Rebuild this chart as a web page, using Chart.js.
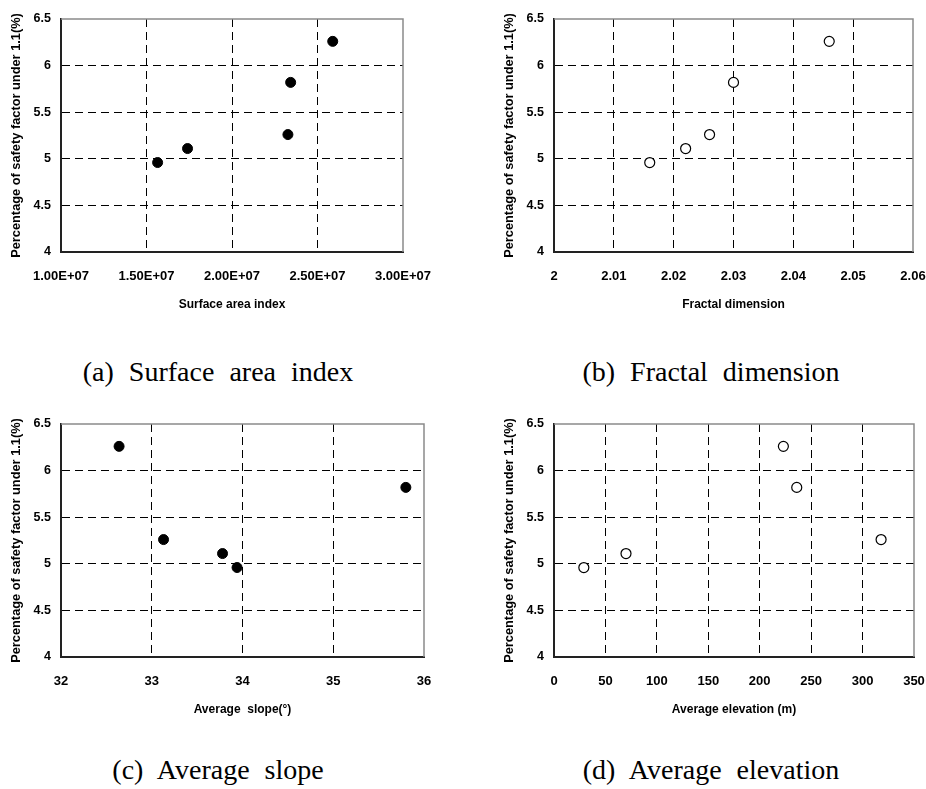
<!DOCTYPE html>
<html>
<head>
<meta charset="utf-8">
<script src="https://cdn.jsdelivr.net/npm/chart.js@4.4.1/dist/chart.umd.min.js"></script>
<style>
  body { margin: 0; background: #fff; width: 926px; height: 789px; position: relative; overflow: hidden; }
  .panel { position: absolute; }
  .cap {
    position: absolute;
    font-family: "Liberation Serif", "DejaVu Serif", serif;
    font-size: 28px;
    line-height: 28px;
    word-spacing: 8px;
    color: #000;
    transform: translateX(-50%);
    white-space: nowrap;
  }
</style>
</head>
<body>
<div class="panel" style="left:0;top:0;width:463px;height:320px"><canvas id="chart-a"></canvas></div>
<div class="panel" style="left:493px;top:0;width:433px;height:320px"><canvas id="chart-b"></canvas></div>
<div class="panel" style="left:0;top:405px;width:463px;height:320px"><canvas id="chart-c"></canvas></div>
<div class="panel" style="left:493px;top:405px;width:433px;height:320px"><canvas id="chart-d"></canvas></div>

<div class="cap" style="left:218px;top:358px">(a) Surface area index</div>
<div class="cap" style="left:711px;top:358px">(b) Fractal dimension</div>
<div class="cap" style="left:218px;top:756px">(c) Average slope</div>
<div class="cap" style="left:711px;top:756px">(d) Average elevation</div>

<script>
// wartości
const safetyPct = [4.96, 5.11, 5.26, 5.82, 6.26];
const surfaceIndex = [1.565e7, 1.74e7, 2.327e7, 2.343e7, 2.589e7];
const fractalDim = [2.016, 2.022, 2.026, 2.030, 2.046];
const avgSlope = [33.94, 33.78, 33.13, 35.80, 32.64];
const avgElev = [29, 70, 318, 236, 223];

const yTicks = [4, 4.5, 5, 5.5, 6, 6.5];
const yTickLabels = ['4', '4.5', '5', '5.5', '6', '6.5'];

const xTicksA = [1e7, 1.5e7, 2e7, 2.5e7, 3e7];
const xLabelsA = ['1.00E+07', '1.50E+07', '2.00E+07', '2.50E+07', '3.00E+07'];
const xTicksB = [2, 2.01, 2.02, 2.03, 2.04, 2.05, 2.06];
const xLabelsB = ['2', '2.01', '2.02', '2.03', '2.04', '2.05', '2.06'];
const xTicksC = [32, 33, 34, 35, 36];
const xLabelsC = ['32', '33', '34', '35', '36'];
const xTicksD = [0, 50, 100, 150, 200, 250, 300, 350];
const xLabelsD = ['0', '50', '100', '150', '200', '250', '300', '350'];

const yTitle = 'Percentage of safety factor under 1.1(%)';

// szara ramka u góry i z prawej
const framePlugin = {
  id: 'frame',
  beforeDatasetsDraw(chart) {
    const { ctx, chartArea: a } = chart;
    ctx.save();
    ctx.strokeStyle = '#8a8a8a';
    ctx.lineWidth = 1.5;
    ctx.beginPath();
    ctx.moveTo(a.left, a.top);
    ctx.lineTo(a.right, a.top);
    ctx.lineTo(a.right, a.bottom);
    ctx.stroke();
    ctx.restore();
  }
};

function gridColor(max) {
  return ctx => (ctx.tick && Math.abs(ctx.tick.value - max) < 1e-9) ? 'rgba(0,0,0,0)' : '#000';
}

function makeChart(id, xs, xTicks, xLabels, xTitle, filled, padRight) {
  const canvas = document.getElementById(id);
  const points = xs.map((x, i) => ({ x, y: safetyPct[i] }));
  const xMax = xTicks[xTicks.length - 1];

  return new Chart(canvas, {
    type: 'scatter',
    data: {
      datasets: [{
        data: points,
        pointRadius: 5,
        pointHoverRadius: 5,
        pointBorderWidth: filled ? 1 : 1.2,
        pointBackgroundColor: filled ? '#000' : '#fff',
        pointBorderColor: '#000',
        showLine: false
      }]
    },
    options: {
      responsive: true,
      maintainAspectRatio: false,
      animation: false,
      layout: { padding: { left: 0, top: 19, right: padRight, bottom: 0 } },
      plugins: { legend: { display: false }, tooltip: { enabled: false } },
      scales: {
        x: {
          type: 'linear',
          min: xTicks[0],
          max: xMax,
          afterBuildTicks: s => { s.ticks = xTicks.map(v => ({ value: v })); },
          afterFit: s => { s.height = 68; s.paddingLeft = 0; s.paddingRight = 0; },
          ticks: {
            padding: 17,
            color: '#000',
            maxRotation: 0,
            font: { family: 'Liberation Sans, Arial, sans-serif', size: 13, weight: 'bold' },
            callback: (v, i) => xLabels[i]
          },
          grid: { color: gridColor(xMax), lineWidth: 1, drawTicks: false },
          border: { color: '#222', width: 2, dash: [8, 5] },
          title: {
            display: true,
            text: xTitle,
            color: '#000',
            padding: { top: 0, bottom: 8 },
            font: { family: 'Liberation Sans, Arial, sans-serif', size: 12, weight: 'bold' }
          }
        },
        y: {
          type: 'linear',
          min: 4,
          max: 6.5,
          afterBuildTicks: s => { s.ticks = yTicks.map(v => ({ value: v })); },
          afterFit: s => { s.width = 61; s.paddingTop = 0; s.paddingBottom = 0; },
          ticks: {
            padding: 10,
            color: '#000',
            font: { family: 'Liberation Sans, Arial, sans-serif', size: 12.5, weight: 'bold' },
            callback: (v, i) => yTickLabels[i]
          },
          grid: { color: gridColor(6.5), lineWidth: 1, drawTicks: false },
          border: { color: '#222', width: 2, dash: [8, 5] },
          title: {
            display: true,
            text: yTitle,
            color: '#000',
            padding: { top: 9, bottom: 0 },
            font: { family: 'Liberation Sans, Arial, sans-serif', size: 12.8, weight: 'bold' }
          }
        }
      }
    },
    plugins: [framePlugin]
  });
}

document.addEventListener('DOMContentLoaded', () => {
  makeChart('chart-a', surfaceIndex, xTicksA, xLabelsA, 'Surface area index', true, 60);
  makeChart('chart-b', fractalDim, xTicksB, xLabelsB, 'Fractal dimension', false, 13);
  makeChart('chart-c', avgSlope, xTicksC, xLabelsC, 'Average  slope(°)', true, 39);
  makeChart('chart-d', avgElev, xTicksD, xLabelsD, 'Average elevation (m)', false, 12);
});
</script>
</body>
</html>
